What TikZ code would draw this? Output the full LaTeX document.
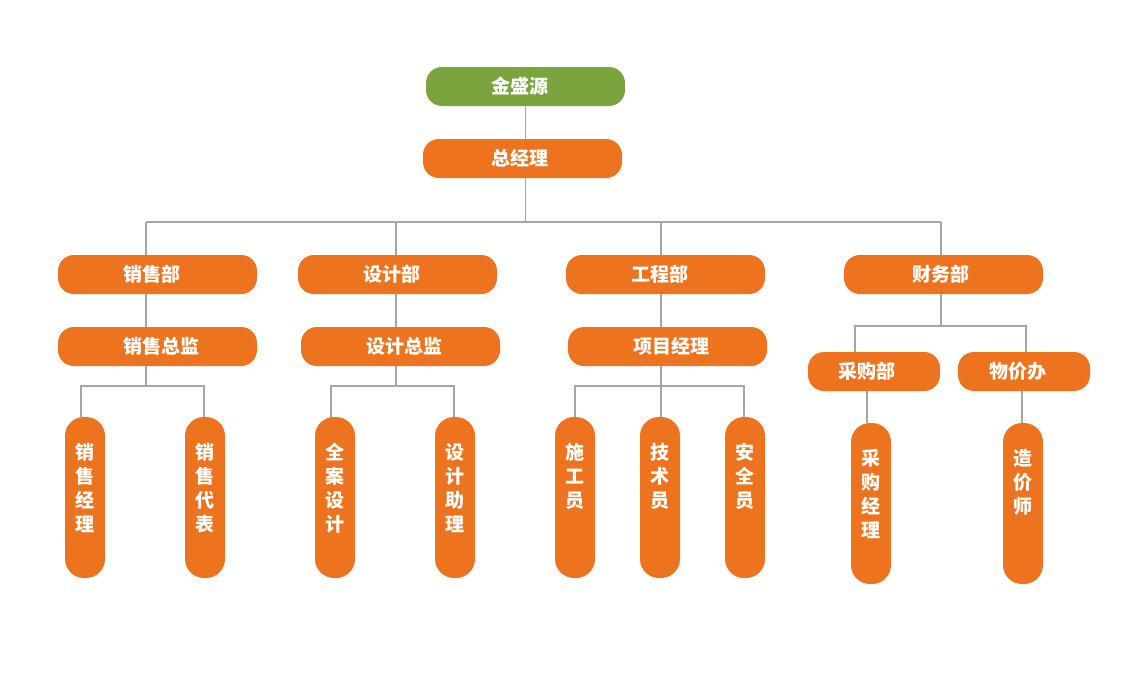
\documentclass[tikz,border=0pt]{standalone}
\usepackage{fontspec}
\setmainfont{Noto Sans CJK SC}
\definecolor{org}{HTML}{EE731E}
\definecolor{grn}{HTML}{7BA43F}
\definecolor{lnc}{HTML}{A6A6A6}
\newcommand{\hl}[3]{\makebox[#1pt][l]{\hspace*{#2pt}#3}}
\newcommand{\vl}[1]{\parbox[c][161pt][t]{40pt}{\vspace*{26pt}\centering\baselineskip=24pt #1\par}}
\begin{document}
\begin{tikzpicture}[x=1pt,y=-1pt,
  hbox/.style={rectangle,rounded corners=16pt,fill=org,minimum width=199pt,minimum height=39pt,inner sep=0pt,text=white,font=\fontsize{19}{23}\selectfont\bfseries},
  sbox/.style={hbox,minimum width=132pt},
  vbox/.style={rectangle,rounded corners=19pt,fill=org,minimum width=40pt,minimum height=161pt,inner sep=0pt,text=white,font=\fontsize{19}{24}\selectfont\bfseries},
  conn/.style={draw=lnc,line width=1.8pt}]
\useasboundingbox (0,0) rectangle (1136,686);
\fill[white] (0,0) rectangle (1136,686);
\node[hbox,fill=grn] (top) at (525.5,86.5) {\hl{199}{65}{金盛源}};
\node[hbox] (gm) at (522.5,158.5) {\hl{199}{68}{总经理}};
\node[hbox] (sales) at (157.5,274.5) {\hl{199}{66}{销售部}};
\node[hbox] (design) at (397.5,274.5) {\hl{199}{65}{设计部}};
\node[hbox] (eng) at (665.5,274.5) {\hl{199}{65}{工程部}};
\node[hbox] (fin) at (943.5,274.5) {\hl{199}{68}{财务部}};
\node[hbox] (salesd) at (157.5,346.5) {\hl{199}{66}{销售总监}};
\node[hbox] (designd) at (400.5,346.5) {\hl{199}{65}{设计总监}};
\node[hbox] (pm) at (667.5,346.5) {\hl{199}{65}{项目经理}};
\node[sbox] (purch) at (874,371.5) {\hl{132}{30}{采购部}};
\node[sbox] (price) at (1024,371.5) {\hl{132}{31}{物价办}};
\node[vbox] (sm) at (85,497.5) {\vl{销\\售\\经\\理}};
\node[vbox] (sr) at (205,497.5) {\vl{销\\售\\代\\表}};
\node[vbox] (qa) at (335,497.5) {\vl{全\\案\\设\\计}};
\node[vbox] (da) at (455,497.5) {\vl{设\\计\\助\\理}};
\node[vbox] (sg) at (575,497.5) {\vl{施\\工\\员}};
\node[vbox] (js) at (660,497.5) {\vl{技\\术\\员}};
\node[vbox] (aq) at (745,497.5) {\vl{安\\全\\员}};
\node[vbox] (cg) at (871,503.5) {\vl{采\\购\\经\\理}};
\node[vbox] (zj) at (1023,503.5) {\vl{造\\价\\师}};
% coordinates
\coordinate (bm) at (525.5,222);
\coordinate (b1) at (146,222);
\coordinate (b2) at (396,222);
\coordinate (b3) at (661,222);
\coordinate (b4) at (941,222);
\coordinate (s1) at (81,386);
\coordinate (s2) at (204,386);
\coordinate (d1) at (331,386);
\coordinate (d2) at (454,386);
\coordinate (e1) at (575,386);
\coordinate (e2) at (661,386);
\coordinate (e3) at (744,386);
\coordinate (f1) at (855,326);
\coordinate (f2) at (1026,326);
\coordinate (p1) at (867,400);
\coordinate (p2) at (1022,400);
% connectors
\draw[conn] (top.south) -- (top.south |- gm.north);
\draw[conn] (bm |- gm.south) -- (bm);
\draw[conn] (b1) -- (b4);
\draw[conn] (b1) -- (b1 |- sales.north);
\draw[conn] (b2) -- (b2 |- design.north);
\draw[conn] (b3) -- (b3 |- eng.north);
\draw[conn] (b4) -- (b4 |- fin.north);
\draw[conn] (b1 |- sales.south) -- (b1 |- salesd.north);
\draw[conn] (b2 |- design.south) -- (b2 |- designd.north);
\draw[conn] (b3 |- eng.south) -- (b3 |- pm.north);
\draw[conn] (b1 |- salesd.south) -- (b1 |- s1);
\draw[conn] (s1 |- sm.north) -- (s1) -- (s2) -- (s2 |- sr.north);
\draw[conn] (b2 |- designd.south) -- (b2 |- d1);
\draw[conn] (d1 |- qa.north) -- (d1) -- (d2) -- (d2 |- da.north);
\draw[conn] (e2 |- pm.south) -- (e2) -- (e2 |- js.north);
\draw[conn] (e1 |- sg.north) -- (e1) -- (e3) -- (e3 |- aq.north);
\draw[conn] (b4 |- fin.south) -- (b4 |- f1);
\draw[conn] (f1 |- purch.north) -- (f1) -- (f2) -- (f2 |- price.north);
\draw[conn] (p1 |- purch.south) -- (p1 |- cg.north);
\draw[conn] (p2 |- price.south) -- (p2 |- zj.north);
\end{tikzpicture}
\end{document}
